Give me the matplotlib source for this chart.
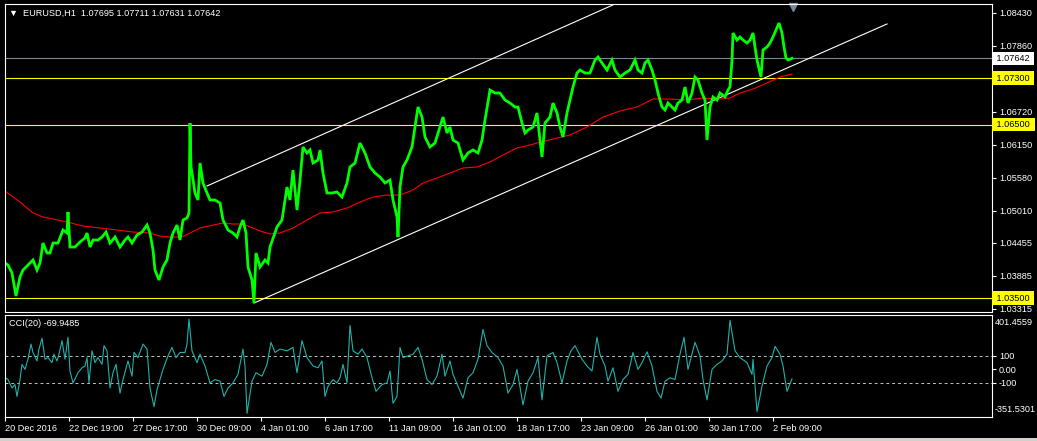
import matplotlib
matplotlib.use("Agg")
import matplotlib.pyplot as plt
import numpy as np
from matplotlib.patches import Rectangle

plt.rcParams['font.family'] = ['Liberation Sans', 'DejaVu Sans']

# ---- data (bar index, price) ----
price_bars = [0, 3, 7, 11, 15, 18, 25, 28, 32, 35, 38, 42, 45, 48, 53, 58, 62, 63, 65, 70,
              75, 80, 82, 85, 88, 93, 97, 101, 105, 110, 115, 120, 123, 127, 132, 137, 142, 145, 148, 150,
              154, 158, 162, 165, 168, 172, 175, 178, 182, 184, 185, 186, 187, 190, 193, 195, 198, 202, 205, 210,
              215, 218, 223, 228, 232, 235, 238, 241, 243, 247, 249, 251, 255, 260, 263, 265, 272, 277, 282, 285,
              288, 292, 295, 298, 302, 305, 308, 313, 315, 318, 322, 327, 332, 337, 342, 345, 350, 355, 360, 365,
              370, 375, 380, 385, 388, 392, 393, 395, 398, 402, 407, 410, 413, 417, 420, 425, 430, 435, 438, 442,
              445, 448, 453, 458, 463, 468, 473, 477, 480, 485, 490, 495, 500, 505, 510, 513, 517, 520, 523, 528,
              532, 535, 537, 540, 545, 548, 552, 555, 558, 562, 565, 568, 572, 575, 580, 585, 590, 593, 597, 602,
              607, 610, 615, 620, 625, 630, 633, 637, 640, 643, 647, 650, 653, 657, 660, 663, 667, 670, 673, 677,
              680, 683, 687, 690, 693, 697, 700, 702, 705, 708, 712, 715, 720, 723, 725, 727, 728, 732, 735, 738,
              742, 745, 748, 750, 752, 756, 758, 762, 765, 768, 771, 774, 777, 779, 781, 783, 787]
price = [1.04108, 1.04073, 1.03935, 1.03538, 1.03866, 1.03987, 1.04108, 1.04160, 1.03987, 1.04108,
         1.04453, 1.04281, 1.04281, 1.04453, 1.04453, 1.04678, 1.04626, 1.04989, 1.04384, 1.04384,
         1.04471, 1.04540, 1.04626, 1.04384, 1.04505, 1.04505, 1.04557, 1.04643, 1.04453, 1.04557,
         1.04384, 1.04505, 1.04557, 1.04453, 1.04592, 1.04643, 1.04764, 1.04626, 1.04333, 1.03987,
         1.03814, 1.04039, 1.04160, 1.04453, 1.04626, 1.04764, 1.04505, 1.04851, 1.04885, 1.04972,
         1.06526, 1.05766, 1.05662, 1.05317, 1.05196, 1.05835, 1.05490, 1.05317, 1.05196, 1.05196,
         1.05144, 1.04851, 1.04678, 1.04626, 1.04557, 1.04730, 1.04851, 1.04626, 1.04039, 1.03814,
         1.03417, 1.04281, 1.04039, 1.04160, 1.04108, 1.04384, 1.04730, 1.04851, 1.05420, 1.05196,
         1.05714, 1.05023, 1.05541, 1.06111, 1.06008, 1.06060, 1.05835, 1.05887, 1.06060, 1.05662,
         1.05317, 1.05317, 1.05334, 1.05248, 1.05490, 1.05766, 1.05835, 1.06180, 1.06008, 1.05766,
         1.05662, 1.05593, 1.05490, 1.05541, 1.05196, 1.04903, 1.04557, 1.05420, 1.05766, 1.05887,
         1.06111, 1.06457, 1.06802, 1.06629, 1.06284, 1.06111, 1.06180, 1.06457, 1.06629, 1.06353,
         1.06457, 1.06232, 1.06180, 1.05887, 1.06008, 1.06060, 1.06008, 1.06232, 1.06578, 1.07096,
         1.07044, 1.07044, 1.06923, 1.06871, 1.06802, 1.06802, 1.06526, 1.06353, 1.06405, 1.06457,
         1.06699, 1.06232, 1.05939, 1.06526, 1.06629, 1.06871, 1.06699, 1.06457, 1.06284, 1.06699,
         1.06923, 1.07148, 1.07389, 1.07441, 1.07389, 1.07389, 1.07614, 1.07666, 1.07562, 1.07441,
         1.07614, 1.07441, 1.07320, 1.07389, 1.07441, 1.07614, 1.07441, 1.07389, 1.07562, 1.07614,
         1.07441, 1.07268, 1.07044, 1.06802, 1.06750, 1.06871, 1.06802, 1.06750, 1.06871, 1.06923,
         1.07148, 1.06871, 1.07044, 1.07320, 1.07268, 1.07044, 1.06923, 1.06232, 1.06802, 1.06975,
         1.06923, 1.07044, 1.06975, 1.07096, 1.07148, 1.07614, 1.08080, 1.07959, 1.08011, 1.07959,
         1.07907, 1.07959, 1.08080, 1.07838, 1.07614, 1.07320, 1.07787, 1.07838, 1.07907, 1.08011,
         1.08132, 1.08253, 1.08080, 1.07838, 1.07648, 1.07614, 1.07642]

ma_bars = [0, 8, 15, 22, 28, 38, 48, 62, 78, 95, 112, 128, 145, 155, 165, 177, 185, 195, 208, 218,
           228, 238, 248, 255, 262, 265, 275, 288, 302, 315, 328, 342, 355, 368, 382, 395, 408, 418, 432, 445,
           458, 472, 485, 498, 512, 525, 532, 548, 565, 582, 598, 615, 632, 648, 665, 682, 698, 715, 725, 735,
           748, 762, 775, 787]
ma = [1.05351, 1.05248, 1.05161, 1.05058, 1.04972, 1.04903, 1.04868, 1.04816, 1.04747, 1.04712,
      1.04678, 1.04643, 1.04626, 1.04574, 1.04557, 1.04557, 1.04626, 1.04712, 1.04764, 1.04799,
      1.04782, 1.04782, 1.04712, 1.04661, 1.04626, 1.04609, 1.04626, 1.04712, 1.04851, 1.04972,
      1.04989, 1.05058, 1.05161, 1.05248, 1.05282, 1.05282, 1.05369, 1.05490, 1.05576, 1.05662,
      1.05749, 1.05766, 1.05852, 1.05973, 1.06094, 1.06146, 1.06180, 1.06250, 1.06319, 1.06457,
      1.06629, 1.06733, 1.06802, 1.06940, 1.06940, 1.06923, 1.06957, 1.06940, 1.06957, 1.07044,
      1.07113, 1.07217, 1.07320, 1.07372]

cci_bars = [0, 3, 7, 10, 12, 15, 17, 20, 23, 26, 28, 32, 34, 37, 40, 43, 47, 49, 52, 54,
            57, 60, 63, 65, 68, 73, 77, 80, 82, 84, 87, 90, 93, 97, 99, 102, 105, 108, 111, 115,
            118, 123, 127, 129, 133, 138, 142, 145, 149, 152, 158, 163, 167, 171, 175, 180, 182, 184, 187, 192,
            195, 200, 205, 210, 215, 219, 223, 228, 233, 238, 240, 242, 247, 251, 257, 262, 266, 270, 275, 282,
            288, 292, 297, 302, 308, 313, 317, 320, 323, 328, 332, 335, 338, 342, 345, 348, 353, 357, 362, 367,
            371, 377, 382, 385, 388, 392, 395, 398, 403, 408, 413, 417, 422, 427, 432, 437, 440, 445, 448, 453,
            458, 463, 468, 473, 478, 482, 487, 493, 498, 503, 508, 512, 518, 523, 528, 533, 537, 542, 548, 552,
            557, 562, 566, 570, 577, 582, 587, 592, 595, 600, 603, 608, 613, 618, 623, 628, 633, 637, 642, 647,
            652, 656, 660, 665, 670, 675, 679, 683, 690, 695, 698, 702, 707, 712, 717, 722, 725, 730, 735, 742,
            747, 748, 752, 757, 762, 767, 770, 775, 778, 782, 787]
cci = [-62, -75, -137, -112, -200, -75, 37, 0, 75, 187, 125, 62, 150, 230, 75, 87, 50, 112, 62, 112,
       212, 75, 237, -12, -100, -25, 12, 25, 87, -100, 137, 50, 87, 37, 175, 137, -137, -25, 37, -175,
       -75, 62, -50, 125, 87, 187, 150, -137, -275, -150, 0, 100, 162, 87, 125, 125, 187, 370, 137, 50,
       112, 25, -100, -75, -87, -200, -137, -100, -37, 150, 25, -325, -87, -25, -50, 37, 200, 125, 150, 137,
       162, -25, 212, 87, 25, 12, 62, -200, -125, -75, -100, -62, 37, -100, 325, 137, 112, 150, 87, -62,
       -162, -112, -100, -12, -250, -200, 162, 87, 100, 112, 162, 75, -75, -112, -50, 112, -50, 62, -37, -125,
       -212, -62, -25, 75, 295, 175, 125, 87, 25, -175, -112, 0, -262, -87, -25, 87, -225, 100, 125, 50,
       -100, 62, 137, 175, 75, 25, -12, 237, 112, 25, -87, 12, -162, -75, -37, 125, 0, 50, 130, 25,
       -162, -212, -87, -62, -75, 112, 237, 0, 200, 100, -75, -225, 0, 37, 62, 112, 362, 137, 87, 50,
       -37, 75, -312, -125, 25, 87, 170, 112, 25, -162, -70]

# trend channel (bar, price) end points
chan_lower_bars = [249, 882]
chan_lower = [1.03417, 1.08236]
chan_upper_bars = [202, 610]
chan_upper = [1.05438, 1.08581]

hlines_yellow = [1.07300, 1.06500, 1.03500]
last_price = 1.07642

price_ticks = [1.08430, 1.07860, 1.06720, 1.06150, 1.05580, 1.05010, 1.04455, 1.03885, 1.03315]
time_ticks = [0, 64, 128, 192, 256, 320, 384, 448, 512, 576, 640, 704, 768]
time_labels = ['20 Dec 2016', '22 Dec 19:00', '27 Dec 17:00', '30 Dec 09:00', '4 Jan 01:00',
               '6 Jan 17:00', '11 Jan 09:00', '16 Jan 01:00', '18 Jan 17:00', '23 Jan 09:00',
               '26 Jan 01:00', '30 Jan 17:00', '2 Feb 09:00']
cci_min, cci_max = -351.5301, 401.4559

FS = 6.6
W, H = 1037, 441
fig = plt.figure(figsize=(W / 100, H / 100), dpi=100, facecolor='black')
ax = fig.add_axes([5 / W, 1 - 312 / H, 987 / W, 308 / H], facecolor='black')
ax2 = fig.add_axes([5 / W, 1 - 417 / H, 987 / W, 102 / H], facecolor='black')

for a in (ax, ax2):
    for s in a.spines.values():
        s.set_color('white')
        s.set_linewidth(0.8)
    a.set_xlim(0, 987)

# ---- main price panel ----
ax.set_ylim(1.03262, 1.08581)
ax.axhline(last_price, color='#778899', lw=0.8)
for lvl in hlines_yellow:
    ax.axhline(lvl, color='#ffff00', lw=0.8)
ax.plot(chan_upper_bars, chan_upper, color='white', lw=0.8)
ax.plot(chan_lower_bars, chan_lower, color='white', lw=0.8)
ax.plot(ma_bars, ma, color='#ff0000', lw=0.8)
ax.plot(price_bars, price, color='#00ff00', lw=2.0, solid_joinstyle='miter')

ax.yaxis.tick_right()
ax.set_yticks(price_ticks)
ax.set_yticklabels([f'{t:.5f}' for t in price_ticks])
ax.tick_params(axis='y', colors='white', labelsize=FS, length=3, width=0.8, pad=2)
ax.set_xticks([])

ytr = ax.get_yaxis_transform()
box = 'square,pad=0.25'
for lvl in hlines_yellow:
    ax.text(1.002, lvl, f' {lvl:.5f} ', transform=ytr, color='black', fontsize=FS, va='center',
            ha='left', bbox=dict(boxstyle=box, facecolor='#ffff00', edgecolor='none'), clip_on=False)
ax.text(1.002, last_price, f' {last_price:.5f} ', transform=ytr, color='black', fontsize=FS,
        va='center', ha='left', bbox=dict(boxstyle=box, facecolor='white', edgecolor='none'),
        clip_on=False)

ax.text(0.004, 0.985, '\u25bc  EURUSD,H1  1.07695 1.07711 1.07631 1.07642', transform=ax.transAxes,
        color='white', fontsize=FS, va='top', ha='left')
# shift marker at the right end of data
ax.plot([price_bars[-1] + 1], [0.99], transform=ax.get_xaxis_transform(), marker='v', ms=6,
        color='#778899', clip_on=False)

# ---- CCI panel ----
ax2.set_ylim(cci_min, cci_max)
ax2.axhline(100, color='#c0c0c0', lw=0.7, ls=(0, (3, 3)))
ax2.axhline(-100, color='#c0c0c0', lw=0.7, ls=(0, (3, 3)))
ax2.plot(cci_bars, cci, color='#20b2aa', lw=0.8)
ax2.yaxis.tick_right()
ax2.set_yticks([100, 0, -100])
ax2.set_yticklabels(['100', '0.00', '-100'])
ax2.tick_params(axis='y', colors='white', labelsize=FS, length=3, width=0.8, pad=2)
ax2.text(1.003, 0.93, f'{cci_max:.4f}', transform=ax2.transAxes, color='white', fontsize=FS,
         va='center', ha='left')
ax2.text(1.003, 0.07, f'{cci_min:.4f}', transform=ax2.transAxes, color='white', fontsize=FS,
         va='center', ha='left')
ax2.text(0.004, 0.96, 'CCI(20) -69.9485', transform=ax2.transAxes, color='white', fontsize=FS,
         va='top', ha='left')

ax2.set_xticks(time_ticks)
ax2.set_xticklabels(time_labels, ha='left')
ax2.tick_params(axis='x', colors='white', labelsize=FS, length=3, width=0.8, pad=2)

fig.patches.append(Rectangle((0, 0), 1, 3 / H, transform=fig.transFigure, facecolor='#d4d0c8',
                             edgecolor='none'))

fig.savefig('out.png', dpi=100, facecolor='black')
